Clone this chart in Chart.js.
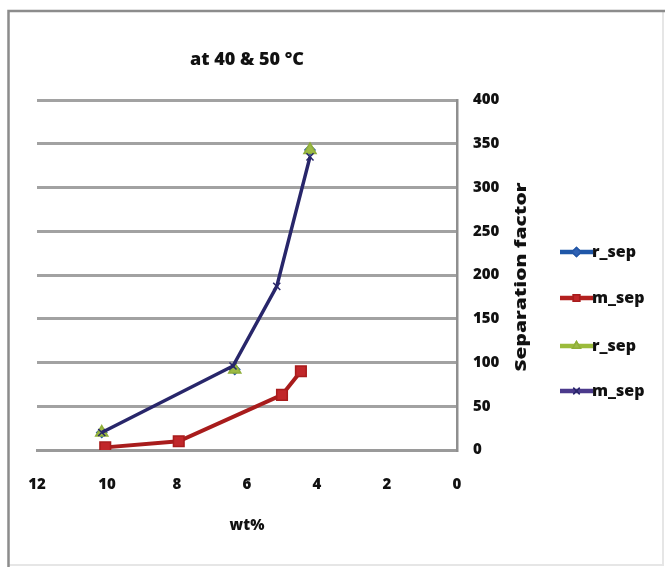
<!DOCTYPE html>
<html>
<head>
<meta charset="utf-8">
<script src="https://cdn.jsdelivr.net/npm/chart.js@4/dist/chart.umd.min.js"></script>
<style>
  html, body { margin: 0; padding: 0; background: #fff; }
  #wrap { width: 665px; height: 567px; }
</style>
</head>
<body>
<div id="wrap"><canvas id="c" width="665" height="567"></canvas></div>
<script>
// Separation factor against feed concentration (wt%)
const chartTitle = 'at 40 & 50 °C';
const xTitle = 'wt%';
const yTitle = 'Separation factor';
const seriesNames = ['r_sep', 'm_sep', 'r_sep', 'm_sep'];

// r_sep (first set)
const rSep1Wt  = [10.15, 6.35, 4.2];
const rSep1Val = [20, 92, 343];
// m_sep (first set)
const mSep1Wt  = [10.05, 7.95, 5.0, 4.46];
const mSep1Val = [3, 10, 63, 90];
// r_sep (second set)
const rSep2Wt  = [10.15, 6.35, 4.2];
const rSep2Val = [20, 92, 343];
// m_sep (second set)
const mSep2Wt  = [10.15, 6.4, 5.15, 4.2];
const mSep2Val = [20, 96, 187, 335];

const xTicks = [0, 2, 4, 6, 8, 10, 12];
const yTicks = [0, 50, 100, 150, 200, 250, 300, 350, 400];

const pts = (xs, ys) => xs.map((x, i) => ({ x: x, y: ys[i] }));

const FONT = '"Open Sans", "Liberation Sans", sans-serif';
const WEIGHT = '800';
const INK = '#111111';

const styles = [
  { color: '#2456a6', fill: '#2f62b4', marker: 'rectRot', radius: 5, line: 3, showLine: false, order: 4 },
  { color: '#a81c1c', fill: '#c1272a', marker: 'rect',    radius: 7.5, line: 4, showLine: true,  order: 3 },
  { color: '#8fae3a', fill: '#9dbb45', marker: 'triangle', radius: 7, line: 3, showLine: false, order: 2 },
  { color: '#28266a', fill: '#28266a', marker: 'crossRot', radius: 5, line: 3.5, showLine: true,  order: 1 }
];
const legendColors = ['#1f57a8', '#b3201f', '#9bbb3b', '#4b3a8c'];

const dataSets = [
  pts(rSep1Wt, rSep1Val),
  pts(mSep1Wt, mSep1Val),
  pts(rSep2Wt, rSep2Val),
  pts(mSep2Wt, mSep2Val)
];

const datasets = dataSets.map((d, i) => ({
  label: seriesNames[i],
  data: d,
  borderColor: styles[i].color,
  backgroundColor: styles[i].fill,
  pointBorderColor: styles[i].color,
  pointBackgroundColor: styles[i].fill,
  pointStyle: styles[i].marker,
  pointRadius: styles[i].radius,
  pointBorderWidth: 1.5,
  borderWidth: styles[i].line,
  showLine: styles[i].showLine,
  order: styles[i].order,
  tension: 0
}));

// Frame, title, right axis title and legend
const decor = {
  id: 'decor',
  beforeDraw(chart) {
    const ctx = chart.ctx;
    ctx.save();
    ctx.fillStyle = '#fff';
    ctx.fillRect(0, 0, chart.width, chart.height);
    ctx.strokeStyle = '#e6e6e6';
    ctx.lineWidth = 2;
    ctx.beginPath();
    ctx.moveTo(663, 11); ctx.lineTo(663, 565); ctx.lineTo(8, 565);
    ctx.stroke();
    ctx.strokeStyle = '#8c8c8c';
    ctx.lineWidth = 2.5;
    ctx.beginPath();
    ctx.moveTo(8.5, 567); ctx.lineTo(8.5, 11); ctx.lineTo(665, 11);
    ctx.stroke();
    ctx.restore();
  },
  afterDraw(chart) {
    const ctx = chart.ctx;
    const area = chart.chartArea;
    ctx.save();
    ctx.fillStyle = INK;
    ctx.textAlign = 'center';
    ctx.textBaseline = 'middle';
    ctx.font = WEIGHT + ' 18px ' + FONT;
    ctx.fillText(chartTitle, (area.left + area.right) / 2, 60);

    // right axis title, reading bottom to top, drawn long and narrow
    ctx.save();
    ctx.font = WEIGHT + ' 15px ' + FONT;
    const len = ctx.measureText(yTitle).width;
    ctx.translate(522, 277);
    ctx.rotate(-Math.PI / 2);
    ctx.scale(189 / len, 1);
    ctx.fillText(yTitle, 0, 0);
    ctx.restore();

    // legend
    const ys = [252, 298, 346, 391];
    chart.data.datasets.forEach((ds, i) => {
      const y = ys[i];
      ctx.strokeStyle = legendColors[i];
      ctx.lineWidth = 4.5;
      ctx.beginPath();
      ctx.moveTo(560, y); ctx.lineTo(593, y);
      ctx.stroke();
      ctx.lineWidth = 1.5;
      Chart.helpers.drawPoint(ctx, {
        pointStyle: ds.pointStyle,
        radius: 4.5,
        borderWidth: 1.5,
        rotation: 0
      }, 576.5, y);
      ctx.fillStyle = ds.pointBackgroundColor;
      ctx.strokeStyle = ds.pointBorderColor;
      ctx.fill();
      ctx.stroke();
      ctx.fillStyle = INK;
      ctx.textAlign = 'left';
      ctx.font = WEIGHT + ' 16px ' + FONT;
      ctx.fillText(ds.label, 592, y);
    });
    ctx.restore();
  }
};

new Chart(document.getElementById('c'), {
  type: 'scatter',
  data: { datasets: datasets },
  plugins: [decor],
  options: {
    responsive: false,
    animation: false,
    layout: { padding: { left: 37, top: 100, right: 0, bottom: 20 } },
    plugins: {
      legend: { display: false },
      title: { display: false },
      tooltip: { enabled: false }
    },
    scales: {
      x: {
        type: 'linear',
        position: 'bottom',
        reverse: true,
        min: 0,
        max: 12,
        afterBuildTicks(scale) { scale.ticks = xTicks.map(v => ({ value: v })); },
        afterFit(scale) { scale.height = 97; },
        ticks: {
          color: INK,
          padding: 26,
          font: { family: FONT, size: 15, weight: WEIGHT }
        },
        grid: { display: false, drawTicks: false },
        border: { display: true, color: '#9a9a9a', width: 3 },
        title: {
          display: true,
          text: xTitle,
          color: INK,
          padding: { top: 0, bottom: 12 },
          font: { family: FONT, size: 15, weight: WEIGHT }
        }
      },
      y: {
        type: 'linear',
        position: 'right',
        min: 0,
        max: 400,
        afterBuildTicks(scale) { scale.ticks = yTicks.map(v => ({ value: v })); },
        afterFit(scale) { scale.width = 208; },
        ticks: {
          color: INK,
          padding: 16,
          font: { family: FONT, size: 15, weight: WEIGHT }
        },
        grid: { color: '#a2a2a2', lineWidth: 3, drawTicks: false },
        border: { display: true, color: '#8f8f8f', width: 2.5 }
      }
    }
  }
});
</script>
</body>
</html>
